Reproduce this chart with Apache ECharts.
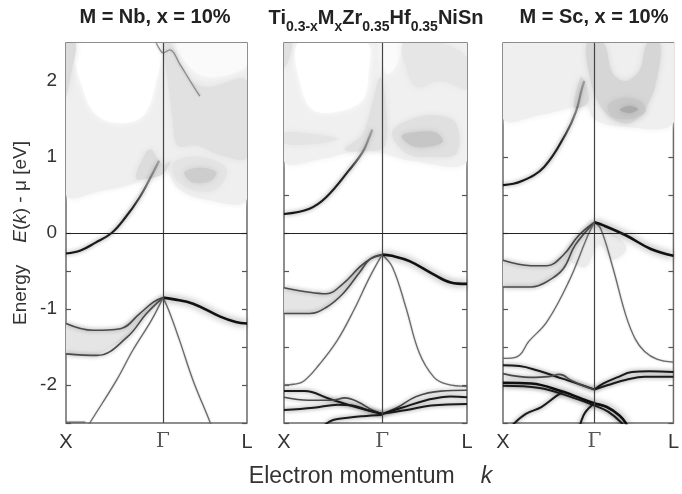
<!DOCTYPE html>
<html>
<head>
<meta charset="utf-8">
<script src="https://cdn.jsdelivr.net/npm/echarts@6/dist/echarts.min.js"></script>
<style>
  html, body { margin: 0; padding: 0; background: #fff; }
  #chart { width: 682px; height: 494px; }
</style>
</head>
<body>
<div id="chart"></div>
<script>
  // k axis: X = 0, Gamma = 1, L = 1.866 ; energy in eV
  var kTicks = [0, 1, 1.866];
  var kNames = ['X', 'Γ', 'L'];
  var titles = ['M = Nb, x = 10%', 'Ti0.3-xMxZr0.35Hf0.35NiSn', 'M = Sc, x = 10%'];

  // ---- panel 1 : M = Nb ----
  var nbCond = [[0, -0.27], [0.15, -0.23], [0.3, -0.13], [0.47, 0], [0.61, 0.2], [0.76, 0.47], [0.9, 0.8], [0.96, 0.95]];
  var nbTop = [[0.93, 2.5], [0.97, 2.41], [1, 2.37], [1.07, 2.41], [1.17, 2.23], [1.28, 2.0], [1.38, 1.8]];
  var nbValR = [[1, -0.85], [1.1, -0.87], [1.31, -0.93], [1.59, -1.1], [1.75, -1.17], [1.866, -1.19]];
  var nbValUp = [[0, -1.19], [0.28, -1.28], [0.56, -1.26], [0.76, -1.06], [0.9, -0.91], [1, -0.85]];
  var nbValLow = [[0, -1.59], [0.32, -1.61], [0.63, -1.37], [0.83, -1.06], [1, -0.85]];
  var nbLightX = [[1, -0.85], [0.88, -1.15], [0.69, -1.54], [0.52, -1.94], [0.25, -2.49], [0.22, -2.56]];
  var nbLightL = [[1, -0.85], [1.06, -1.02], [1.17, -1.41], [1.31, -1.94], [1.485, -2.49], [1.5, -2.56]];
  var nbBottom = [[0, -2.49], [0.2, -2.49]];

  var nbShadeLight = [[0, 0.5], [0.35, 0.55], [0.7, 0.65], [0.85, 0.75], [1.0, 0.9], [1.15, 0.6], [1.4, 0.45], [1.866, 0.45], [1.866, 2.5], [0, 2.5]];
  var nbShadeWhite = [[0.12, 2.5], [0.2, 1.8], [0.35, 1.52], [0.6, 1.45], [0.8, 1.55], [0.92, 1.95], [0.95, 2.5]];
  var nbShadeWhite2 = [[1.15, 2.5], [1.3, 2.15], [1.5, 2.05], [1.866, 2.2], [1.866, 2.5]];
  var nbShadeEdge = [[0, 2.5], [0.1, 2.5], [0.06, 2.15], [0, 1.8]];
  var nbShadeRight = [[1.0, 2.5], [1.08, 2.5], [1.25, 2.05], [1.45, 1.92], [1.866, 2.0], [1.866, 1.0], [1.6, 1.02], [1.35, 1.15], [1.15, 1.15], [1.1, 1.5], [1.05, 2.0]];
  var nbShadeSpike = [[0.72, 0.72], [0.82, 1.05], [0.88, 1.1], [0.93, 1.0], [1.0, 0.9], [1.08, 0.95], [1.0, 0.78], [0.85, 0.72]];
  var nbShadeBlob = [[1.1, 0.9], [1.25, 1.0], [1.5, 0.97], [1.66, 0.82], [1.55, 0.58], [1.35, 0.55], [1.15, 0.68]];
  var nbShadeCore = [[1.22, 0.8], [1.38, 0.86], [1.55, 0.8], [1.48, 0.68], [1.3, 0.67]];

  // ---- panel 2 : undoped ----
  var unCond = [[0, 0.25], [0.26, 0.32], [0.43, 0.47], [0.66, 0.82], [0.8, 1.06], [0.87, 1.26], [0.9, 1.36]];
  var unValR = [[1, -0.285], [1.1, -0.3], [1.28, -0.37], [1.52, -0.54], [1.7, -0.65], [1.866, -0.67]];
  var unValUp = [[0, -0.72], [0.26, -0.78], [0.43, -0.8], [0.6, -0.67], [0.77, -0.45], [0.88, -0.34], [1, -0.285]];
  var unValLow = [[0, -1.06], [0.26, -1.06], [0.43, -0.98], [0.6, -0.8], [0.77, -0.52], [0.88, -0.34], [1, -0.285]];
  var unLightX = [[1, -0.285], [0.87, -0.59], [0.71, -1.02], [0.54, -1.42], [0.36, -1.73], [0.2, -1.95], [0.1, -1.99], [0, -2.0]];
  var unLightL = [[1, -0.285], [1.106, -0.45], [1.243, -0.98], [1.38, -1.58], [1.53, -1.9], [1.66, -1.99], [1.866, -2.02]];
  var unLowA = [[0, -2.08], [0.21, -2.08], [0.46, -2.18], [0.73, -2.29], [1, -2.38]];
  var unLowB = [[0, -2.16], [0.25, -2.2], [0.5, -2.2], [0.62, -2.17], [0.75, -2.22], [0.9, -2.33], [1, -2.38]];
  var unLowC = [[0, -2.33], [0.3, -2.3], [0.55, -2.26], [0.7, -2.27], [0.85, -2.33], [1, -2.38]];
  var unLowD = [[0.42, -2.52], [0.5, -2.46], [0.65, -2.43], [0.8, -2.41], [1, -2.39]];
  var unLowR1 = [[1, -2.38], [1.15, -2.3], [1.35, -2.15], [1.6, -2.08], [1.866, -2.07]];
  var unLowR2 = [[1, -2.38], [1.2, -2.3], [1.45, -2.2], [1.7, -2.15], [1.866, -2.16]];
  var unLowR3 = [[1, -2.38], [1.25, -2.33], [1.5, -2.27], [1.866, -2.25]];

  var unShadeLight = [[0, 0.95], [0.4, 0.98], [0.75, 1.08], [1.0, 1.05], [1.3, 0.95], [1.866, 0.95], [1.866, 2.5], [0, 2.5]];
  var unShadeWhite = [[0.15, 2.5], [0.18, 1.9], [0.3, 1.62], [0.55, 1.6], [0.8, 1.75], [0.86, 2.1], [0.84, 2.5]];
  var unShadeWhite2 = [[1.0, 2.5], [1.2, 2.5], [1.12, 2.15], [1.04, 2.1]];
  var unShadeEdge = [[0, 2.5], [0.08, 2.5], [0.04, 2.25], [0, 2.18]];
  var unShadeStreak = [[0, 1.32], [0.3, 1.3], [0.55, 1.24], [0.3, 1.17], [0, 1.18]];
  var unShadeSpike = [[0.62, 1.1], [0.8, 1.3], [0.92, 1.8], [0.98, 2.05], [1.03, 1.8], [1.03, 1.15], [0.85, 1.08]];
  var unShadeRight = [[1.1, 1.32], [1.3, 1.5], [1.55, 1.55], [1.75, 1.45], [1.76, 1.05], [1.5, 1.0], [1.25, 1.05]];
  var unShadeCore = [[1.2, 1.28], [1.35, 1.33], [1.55, 1.32], [1.62, 1.2], [1.45, 1.13], [1.3, 1.15]];
  var unShadeTop = [[1.22, 2.5], [1.6, 2.5], [1.866, 2.3], [1.866, 1.9], [1.6, 2.0], [1.35, 1.92], [1.25, 2.15]];

  // ---- panel 3 : M = Sc ----
  var scCond = [[0, 0.63], [0.2, 0.68], [0.45, 0.87], [0.69, 1.31], [0.8, 1.6], [0.86, 1.88], [0.89, 2.0]];
  var scValR = [[1, 0.14], [1.1, 0.1], [1.344, -0.03], [1.618, -0.21], [1.866, -0.3]];
  var scValUp = [[0, -0.36], [0.31, -0.43], [0.48, -0.43], [0.66, -0.29], [0.83, -0.03], [1, 0.14]];
  var scValLow = [[0, -0.71], [0.31, -0.71], [0.48, -0.64], [0.66, -0.47], [0.79, -0.16], [1, 0.14]];
  var scLightX = [[1, 0.14], [0.93, -0.03], [0.72, -0.64], [0.48, -1.17], [0.28, -1.43], [0.18, -1.61], [0.05, -1.65], [0, -1.65]];
  var scLightL = [[1, 0.14], [1.069, 0.06], [1.206, -0.47], [1.344, -1.08], [1.45, -1.4], [1.55, -1.56], [1.684, -1.66], [1.866, -1.7]];
  var scLowA = [[0, -1.74], [0.18, -1.75], [0.38, -1.81], [0.66, -1.92], [0.86, -2.0], [1, -2.06]];
  var scLowHump = [[0, -1.85], [0.3, -1.9], [0.5, -1.89], [0.62, -1.86], [0.75, -1.94], [0.9, -2.02], [1, -2.06]];
  var scLowB = [[0, -1.97], [0.31, -1.98], [0.66, -2.09], [0.86, -2.18], [1, -2.24], [1.137, -2.29], [1.275, -2.4], [1.344, -2.5], [1.36, -2.56]];
  var scLowB2 = [[0, -2.01], [0.4, -2.04], [0.7, -2.14], [1, -2.27], [1.15, -2.35], [1.3, -2.5], [1.32, -2.56]];
  var scLowC = [[0.11, -2.52], [0.25, -2.38], [0.42, -2.29], [0.59, -2.14], [0.66, -2.09]];
  var scLowD = [[1, -2.24], [0.9, -2.36], [0.85, -2.5], [0.84, -2.56]];
  var scLowR1 = [[1, -2.06], [1.1, -1.98], [1.25, -1.9], [1.412, -1.83], [1.6, -1.82], [1.866, -1.83]];
  var scLowR2 = [[1, -2.06], [1.15, -2.0], [1.35, -1.93], [1.55, -1.89], [1.866, -1.89]];

  var scShadeLight = [[0, 1.5], [0.4, 1.55], [0.75, 1.65], [0.9, 1.7], [1.0, 1.5], [1.3, 1.4], [1.866, 1.45], [1.866, 2.5], [0, 2.5]];
  var scShadeV = [[0.92, 2.5], [1.1, 2.5], [1.2, 2.1], [1.35, 2.0], [1.5, 2.15], [1.58, 2.5], [1.72, 2.5], [1.68, 2.0], [1.58, 1.68], [1.4, 1.45], [1.2, 1.5], [1.05, 1.7], [0.96, 2.0]];
  var scShadeInner = [[1.15, 1.68], [1.3, 1.78], [1.5, 1.74], [1.56, 1.6], [1.4, 1.5], [1.2, 1.53]];
  var scShadeCore = [[1.28, 1.62], [1.38, 1.67], [1.48, 1.63], [1.4, 1.58]];
  var scShadeSpike = [[0.78, 1.65], [0.85, 2.05], [0.9, 1.98], [0.93, 1.72]];
  var scShadeSmear = [[0.7, -0.3], [0.85, 0.0], [1.0, 0.14], [1.2, 0.0], [1.35, -0.2], [1.2, -0.35], [1.05, -0.15], [0.9, -0.45]];

  var lineStyles = {
    heavy: { color: '#111', width: 2.6, shadowBlur: 7, shadowColor: 'rgba(0,0,0,0.6)' },
    dark: { color: '#1a1a1a', width: 2, shadowBlur: 4, shadowColor: 'rgba(0,0,0,0.5)' },
    mid: { color: '#4a4a4a', width: 1.6, shadowBlur: 4, shadowColor: 'rgba(0,0,0,0.4)' },
    light: { color: '#6a6a6a', width: 1.3, shadowBlur: 2, shadowColor: 'rgba(0,0,0,0.25)' },
    faint: { color: '#8a8a8a', width: 1.3, shadowBlur: 3, shadowColor: 'rgba(0,0,0,0.2)' },
    cond: {
      color: new echarts.graphic.LinearGradient(0, 0, 1, 0, [
        { offset: 0, color: '#111' }, { offset: 0.7, color: '#222' }, { offset: 1, color: 'rgba(90,90,90,0.35)' }
      ]),
      width: 2.2, shadowBlur: 4, shadowColor: 'rgba(0,0,0,0.45)'
    }
  };

  var panels = [
    {
      left: 66, width: 181,
      regions: [[nbShadeLight, '#efefef'], [nbShadeWhite, '#ffffff'], [nbShadeWhite2, '#fafafa'], [nbShadeEdge, '#dcdcdc'],
        [nbShadeRight, '#e1e1e1'], [nbShadeSpike, '#dcdcdc'], [nbShadeBlob, '#e4e4e4'], [nbShadeCore, '#cdcdcd']],
      fills: [[nbValUp, nbValLow]],
      bands: [[nbCond, 'cond'], [nbTop, 'faint'], [nbValUp, 'mid'], [nbValLow, 'mid'], [nbLightX, 'light'],
        [nbLightL, 'light'], [nbBottom, 'light'], [nbValR, 'heavy']]
    },
    {
      left: 284, width: 183,
      regions: [[unShadeLight, '#f0f0f0'], [unShadeWhite, '#ffffff'], [unShadeWhite2, '#fbfbfb'], [unShadeEdge, '#e0e0e0'],
        [unShadeStreak, '#e4e4e4'], [unShadeSpike, '#e0e0e0'], [unShadeTop, '#e6e6e6'], [unShadeRight, '#e0e0e0'], [unShadeCore, '#c6c6c6']],
      fills: [[unValUp, unValLow]],
      bands: [[unCond, 'cond'], [unValUp, 'mid'], [unValLow, 'mid'], [unLightX, 'light'], [unLightL, 'light'],
        [unLowA, 'dark'], [unLowB, 'mid'], [unLowC, 'dark'], [unLowD, 'dark'], [unLowR1, 'mid'], [unLowR2, 'dark'],
        [unLowR3, 'dark'], [unValR, 'heavy']]
    },
    {
      left: 503, width: 181,
      regions: [[scShadeLight, '#efefef'], [scShadeV, '#d6d6d6'], [scShadeInner, '#c8c8c8'], [scShadeCore, '#aaaaaa'],
        [scShadeSpike, '#d8d8d8'], [scShadeSmear, '#ebebeb']],
      fills: [[scValUp, scValLow]],
      bands: [[scCond, 'cond'], [scValUp, 'mid'], [scValLow, 'mid'], [scLightX, 'light'], [scLightL, 'light'],
        [scLowA, 'dark'], [scLowHump, 'mid'], [scLowB, 'heavy'], [scLowB2, 'dark'], [scLowC, 'dark'], [scLowD, 'dark'],
        [scLowR1, 'dark'], [scLowR2, 'dark'], [scValR, 'heavy']]
    }
  ];

  var chart = echarts.init(document.getElementById('chart'), null, { renderer: 'canvas' });

  var grids = [], xAxes = [], yAxes = [], series = [];
  var font = 'Liberation Sans, Arial, sans-serif';

  panels.forEach(function (p, i) {
    grids.push({
      left: p.left, top: 43, width: p.width, height: 380,
      show: true, borderColor: '#6a6a6a', borderWidth: 1.5, backgroundColor: '#fff'
    });

    var xa = {
      gridIndex: i, type: 'value', min: 0, max: kTicks[2], interval: 1,
      axisLine: { show: false }, axisTick: { show: false }, splitLine: { show: false },
      axisLabel: {
        margin: 9, fontSize: 20, color: '#333', fontFamily: font,
        showMinLabel: true, showMaxLabel: true,
        formatter: function (v) {
          var j = kTicks.indexOf(v);
          if (j < 0) j = v > 1.5 ? 2 : (v > 0.5 ? 1 : 0);
          return j === 1 ? '{g|' + kNames[1] + '}' : kNames[j];
        },
        rich: { g: { fontFamily: 'DejaVu Serif, serif', fontSize: 20, color: '#555' } }
      }
    };
    if (i === 1) {
      xa.name = '{t|Electron momentum}{g|}{i|k}';
      xa.nameLocation = 'middle';
      xa.nameGap = 42;
      xa.nameTextStyle = {
        fontSize: 23, color: '#333', fontFamily: font, padding: [0, 10, 0, 0],
        rich: {
          t: { fontSize: 23, color: '#333', fontFamily: font },
          g: { width: 26 },
          i: { fontSize: 23, color: '#333', fontFamily: font, fontStyle: 'italic' }
        }
      };
    }
    xAxes.push(xa);

    var tickStyle = { inside: true, length: 5, lineStyle: { color: '#555', width: 1.2 } };
    var ya = {
      gridIndex: i, type: 'value', min: -2.5, max: 2.5, interval: 0.5,
      axisLine: { show: false }, axisTick: tickStyle, splitLine: { show: false },
      axisLabel: {
        show: i === 0, margin: 9, fontSize: 19, color: '#333', fontFamily: font,
        formatter: function (v) { return Number.isInteger(v) ? String(v) : ''; }
      }
    };
    if (i === 0) {
      ya.name = '{t|Energy}{g|}{i|E}{t|(}{i|k}{t|) - μ [eV]}';
      ya.nameLocation = 'middle';
      ya.nameGap = 36;
      ya.nameTextStyle = {
        fontSize: 19, color: '#333', fontFamily: font,
        rich: {
          t: { fontSize: 19, color: '#333', fontFamily: font },
          g: { width: 22 },
          i: { fontSize: 19, color: '#333', fontFamily: font, fontStyle: 'italic' }
        }
      };
    }
    yAxes.push(ya);
    yAxes.push({
      gridIndex: i, type: 'value', position: 'right', min: -2.5, max: 2.5, interval: 0.5,
      axisLine: { show: false }, axisTick: tickStyle, splitLine: { show: false },
      axisLabel: { show: false }
    });

    // shaded spectral regions, plus the smeared area between the split valence bands
    var regs = p.regions.map(function (r) { return { pts: r[0], fill: r[1], smooth: 0.35 }; });
    p.fills.forEach(function (f) {
      regs.push({ pts: f[0].concat(f[1].slice().reverse()), fill: '#e5e5e5', smooth: 0 });
    });
    series.push({
      type: 'custom', xAxisIndex: i, yAxisIndex: 2 * i, clip: true, silent: true, z: 1,
      data: regs.map(function () { return [0, 0]; }),
      renderItem: function (params, api) {
        var r = regs[params.dataIndex];
        return {
          type: 'polygon',
          shape: { points: r.pts.map(function (pt) { return api.coord(pt); }), smooth: r.smooth },
          style: { fill: r.fill, shadowBlur: 6, shadowColor: r.fill }
        };
      }
    });

    p.bands.forEach(function (b) {
      series.push({
        type: 'line', xAxisIndex: i, yAxisIndex: 2 * i, data: b[0], smooth: 0.4,
        showSymbol: false, symbol: 'none', silent: true, z: 2,
        lineStyle: lineStyles[b[1]]
      });
    });

    series.push({
      type: 'line', xAxisIndex: i, yAxisIndex: 2 * i, data: [], z: 5, silent: true,
      markLine: {
        silent: true, symbol: ['none', 'none'], label: { show: false }, animation: false,
        data: [
          { xAxis: 1, lineStyle: { color: '#444', width: 1.2, type: 'solid' } },
          { yAxis: 0, lineStyle: { color: '#222', width: 1.2, type: 'solid' } }
        ]
      }
    });
  });

  var option = {
    animation: false,
    backgroundColor: '#fff',
    grid: grids,
    xAxis: xAxes,
    yAxis: yAxes,
    series: series,
    graphic: [
      {
        type: 'text', x: 155, y: 17,
        style: { text: titles[0], align: 'center', verticalAlign: 'middle', fontSize: 20, fontWeight: 'bold', fontFamily: font, fill: '#222' }
      },
      {
        type: 'text', x: 376, y: 21,
        style: {
          text: '{n|Ti}{s|0.3-x}{n|M}{s|x}{n|Zr}{s|0.35}{n|Hf}{s|0.35}{n|NiSn}',
          align: 'center', verticalAlign: 'middle', fill: '#222',
          rich: {
            n: { fontSize: 20, fontWeight: 'bold', fontFamily: font, fill: '#222', lineHeight: 22, verticalAlign: 'top' },
            s: { fontSize: 14, fontWeight: 'bold', fontFamily: font, fill: '#222', lineHeight: 26, verticalAlign: 'bottom' }
          }
        }
      },
      {
        type: 'text', x: 594, y: 17,
        style: { text: titles[2], align: 'center', verticalAlign: 'middle', fontSize: 20, fontWeight: 'bold', fontFamily: font, fill: '#222' }
      }
    ]
  };

  chart.setOption(option);
</script>
</body>
</html>
